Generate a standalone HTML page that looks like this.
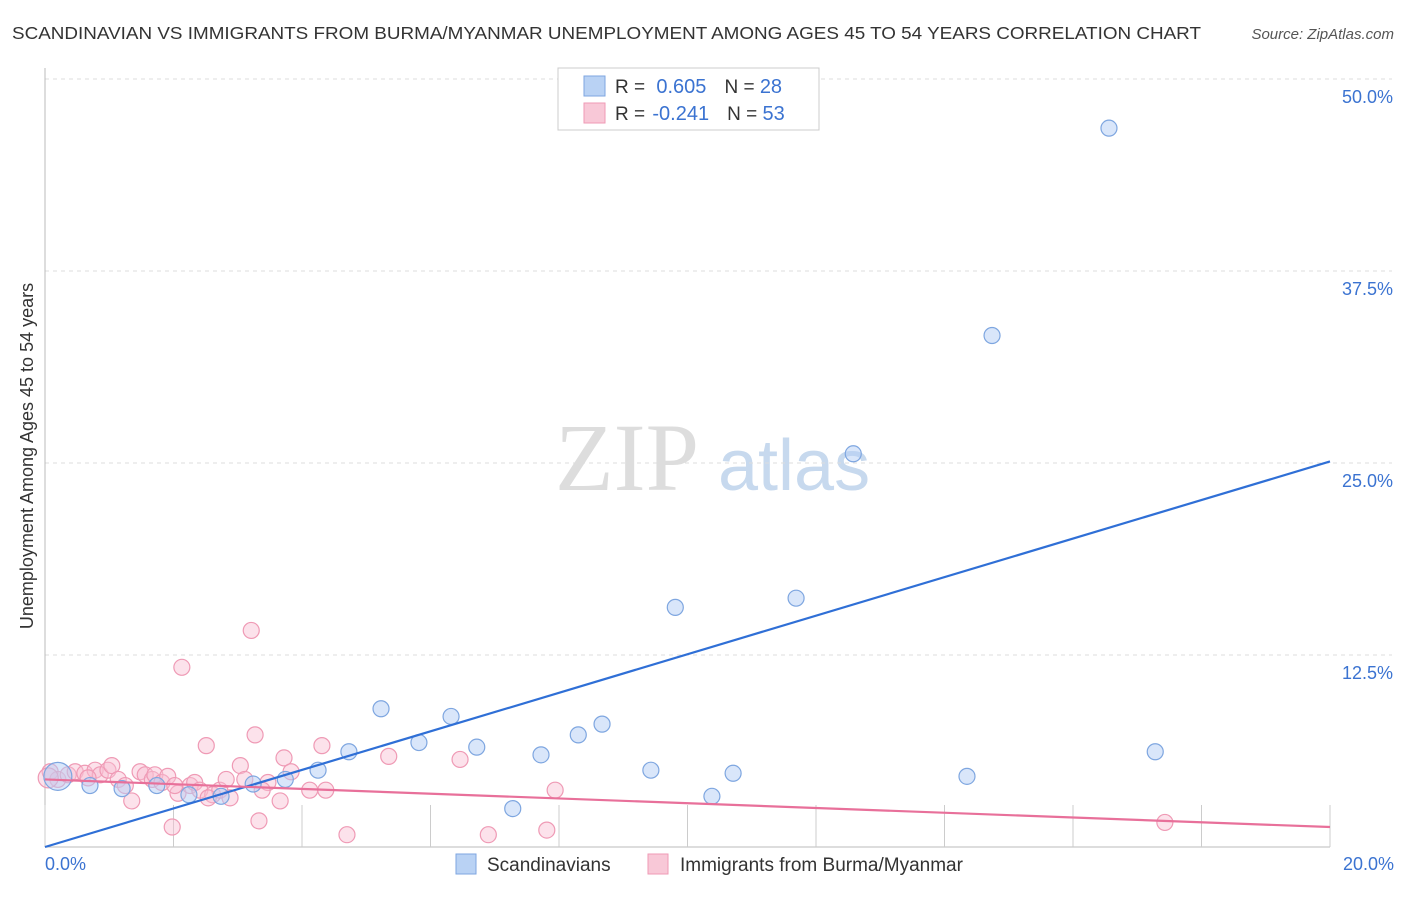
<!DOCTYPE html>
<html><head><meta charset="utf-8"><style>
body{margin:0;background:#fff;font-family:"Liberation Sans",sans-serif}
</style></head><body>
<svg id="c" width="1406" height="892" xmlns="http://www.w3.org/2000/svg">
<text x="12" y="39" font-size="17.5" fill="#333" textLength="1189" lengthAdjust="spacingAndGlyphs">SCANDINAVIAN VS IMMIGRANTS FROM BURMA/MYANMAR UNEMPLOYMENT AMONG AGES 45 TO 54 YEARS CORRELATION CHART</text>
<text x="1394" y="39" font-size="15" fill="#555" font-style="italic" text-anchor="end">Source: ZipAtlas.com</text>
<text transform="translate(33,456) rotate(-90)" font-size="18" fill="#333" text-anchor="middle">Unemployment Among Ages 45 to 54 years</text>
<g><text x="555" y="490" font-size="96" fill="#ddd" font-family="Liberation Serif">ZIP</text><text x="718" y="490" font-size="72" fill="#c7d9ee">atlas</text></g>
<g id="grid"></g><g id="marks"></g>
<g>
<rect x="558" y="68" width="261" height="62" fill="#fff" stroke="#ccc"/>
<rect x="584" y="76" width="21" height="20" fill="#b9d2f4" stroke="#7ea6e0"/>
<text x="615" y="93" font-size="19" fill="#333">R = <tspan dx="6" fill="#3b73d1" font-size="20">0.605</tspan><tspan dx="18">N = </tspan><tspan fill="#3b73d1" font-size="20">28</tspan></text>
<rect x="584" y="103" width="21" height="20" fill="#f8c8d7" stroke="#ef9ab5"/>
<text x="615" y="120" font-size="19" fill="#333">R = <tspan dx="2" fill="#3b73d1" font-size="20">-0.241</tspan><tspan dx="18">N = </tspan><tspan fill="#3b73d1" font-size="20">53</tspan></text>
</g>
<g>
<rect x="456" y="854" width="20" height="20" fill="#b9d2f4" stroke="#7ea6e0"/>
<text x="487" y="871" font-size="19" fill="#333">Scandinavians</text>
<rect x="648" y="854" width="20" height="20" fill="#f8c8d7" stroke="#ef9ab5"/>
<text x="680" y="871" font-size="19" fill="#333">Immigrants from Burma/Myanmar</text>
</g>
</svg>
<script>
const xTicks=[0,20];
const yTicks=[12.5,25,37.5,50];
const blueX=[0.2,0.7,1.2,1.74,2.24,2.74,3.24,3.74,4.25,4.73,5.23,5.82,6.32,6.72,7.28,7.72,8.3,8.67,9.43,9.81,10.38,10.71,11.69,12.58,14.35,14.74,16.56,17.28];
const blueY=[4.6,4.0,3.8,4.0,3.4,3.3,4.1,4.4,5.0,6.2,9.0,6.8,8.5,6.5,2.5,6.0,7.3,8.0,5.0,15.6,3.3,4.8,16.2,25.6,4.6,33.3,46.8,6.2];
const pinkX=[0.08,0.2,0.36,0.47,0.62,0.78,0.86,0.98,1.04,1.14,1.25,1.35,1.48,1.56,1.67,1.71,1.82,1.91,1.98,2.07,2.13,2.26,2.33,2.41,2.51,2.61,2.72,2.82,3.04,3.11,3.21,3.27,3.33,3.47,3.66,3.72,3.83,4.12,4.31,4.37,4.7,5.35,6.46,6.9,7.81,7.94,17.43,2.88,2.54,0.05,0.67,2.02,3.38];
const pinkY=[4.9,4.4,4.7,4.9,4.8,5.0,4.7,5.0,5.3,4.4,4.0,3.0,4.9,4.7,4.4,4.7,4.2,4.6,1.3,3.5,11.7,4.0,4.2,3.7,6.6,3.4,3.7,4.4,5.3,4.4,14.1,7.3,1.7,4.2,3.0,5.8,4.9,3.7,6.6,3.7,0.8,5.9,5.7,0.8,1.1,3.7,1.6,3.2,3.2,4.5,4.5,4.0,3.7];
const blueFit=[0,25.1], pinkFit=[4.4,1.3];
const X=v=>45+v*64.25, Y=v=>847-v*15.36;
const NS='http://www.w3.org/2000/svg';
const g=document.getElementById('grid'), m=document.getElementById('marks');
function mk(tag,attrs,parent){const e=document.createElementNS(NS,tag);for(const k in attrs)e.setAttribute(k,attrs[k]);parent.appendChild(e);return e;}
yTicks.forEach(t=>{
 const l=mk('line',{x1:45,x2:1392,y1:Y(t),y2:Y(t),stroke:'#ddd','stroke-dasharray':'4,4'},g);
 
 
 const tx=mk('text',{x:1393,y:Y(t)+24,'font-size':18,fill:'#3b73d1','text-anchor':'end'},g);
 tx.textContent=t.toFixed(1)+'%';
 
 
});
const ax=mk('line',{x1:45,x2:45,y1:68,y2:847,stroke:'#bbb'},g);


const bx=mk('line',{x1:45,x2:1330,y1:847,y2:847,stroke:'#bbb'},g);


for(let i=0;i<=10;i++){const t=mk('line',{x1:X(i*2),x2:X(i*2),y1:805,y2:847,stroke:'#ccc'},g);
 
 }
xTicks.forEach((t,i)=>{const tx=mk('text',{x:i?1394:45,y:870,'font-size':18,fill:'#3b73d1','text-anchor':i?'end':'start'},g);
 tx.textContent=t.toFixed(1)+'%';
 
 });
pinkX.forEach((v,i)=>{const c=mk('circle',{cx:X(v),cy:Y(pinkY[i]),r:i==49?10:8,fill:'rgba(248,190,210,0.45)',stroke:'#ef9ab5','stroke-width':1.2},m);
 
 });
blueX.forEach((v,i)=>{const c=mk('circle',{cx:X(v),cy:Y(blueY[i]),r:i==0?14:8,fill:'rgba(180,205,245,0.5)',stroke:'#7ea6e0','stroke-width':1.2},m);
 
 });
const bl=mk('line',{x1:X(0),y1:Y(blueFit[0]),x2:X(20),y2:Y(blueFit[1]),stroke:'#2f6fd6','stroke-width':2.2},m);


const pl=mk('line',{x1:X(0),y1:Y(pinkFit[0]),x2:X(20),y2:Y(pinkFit[1]),stroke:'#e8709a','stroke-width':2.2},m);


</script>
</body></html>
